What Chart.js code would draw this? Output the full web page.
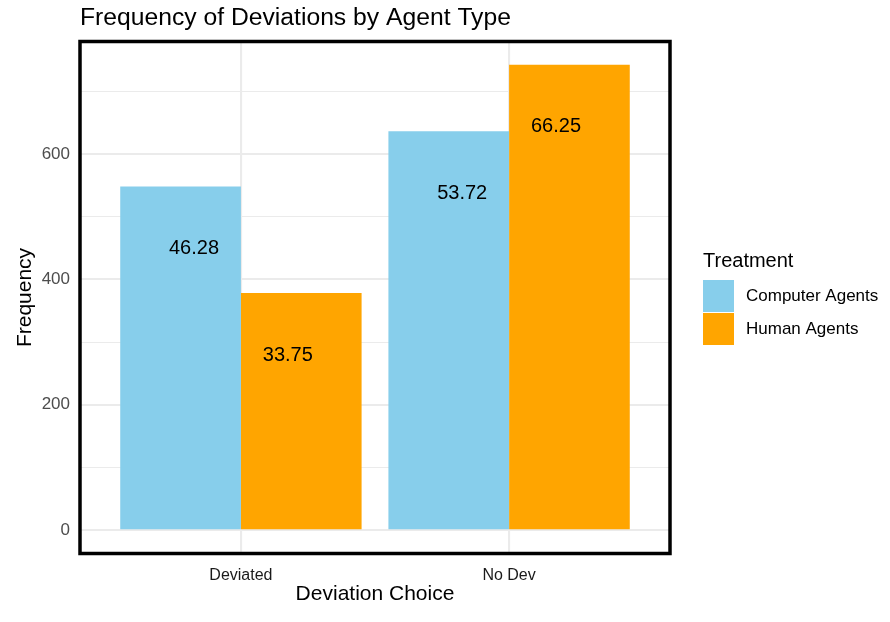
<!DOCTYPE html>
<html>
<head>
<meta charset="utf-8">
<script src="https://cdn.jsdelivr.net/npm/chart.js@4"></script>
<style>
  body { margin: 0; background: #ffffff; }
  canvas { display: block; }
</style>
</head>
<body>
<canvas id="devChart" width="890" height="622"></canvas>
<script>
const categories = ["Deviated", "No Dev"];
const seriesNames = ["Computer Agents", "Human Agents"];
const computerValues = [548, 636];
const humanValues = [378, 742];
const computerPct = ["46.28", "53.72"];
const humanPct = ["33.75", "66.25"];
const yTicks = [0, 100, 200, 300, 400, 500, 600, 700];

const FONT = "'Liberation Sans', Arial, sans-serif";
const colors = ["#87CEEB", "#FFA500"];

// position categories at 1, 2 like a discrete axis
function toPoints(values) {
  return values.map((v, i) => ({ x: i + 1, y: v }));
}

const yMax = Math.max(...computerValues, ...humanValues);

const extras = {
  id: "extras",
  afterDraw(chart) {
    const ctx = chart.ctx;
    const area = chart.chartArea;
    const xs = chart.scales.x;
    const ys = chart.scales.y;

    // bar labels, dodged narrower than the bars
    ctx.save();
    ctx.fillStyle = "#000000";
    ctx.font = "20px " + FONT;
    ctx.textAlign = "center";
    ctx.textBaseline = "middle";
    [[computerValues, computerPct, -0.175], [humanValues, humanPct, 0.175]].forEach(([vals, labels, off]) => {
      vals.forEach((v, i) => {
        ctx.fillText(labels[i], xs.getPixelForValue(i + 1 + off), ys.getPixelForValue(v) + 62);
      });
    });
    ctx.restore();

    // panel border
    ctx.save();
    ctx.strokeStyle = "#000000";
    ctx.lineWidth = 3.5;
    ctx.strokeRect(area.left, area.top, area.right - area.left, area.bottom - area.top);
    ctx.restore();

    // title
    ctx.save();
    ctx.fillStyle = "#000000";
    ctx.font = "24.7px " + FONT;
    ctx.textAlign = "left";
    ctx.textBaseline = "alphabetic";
    ctx.fillText("Frequency of Deviations by Agent Type", area.left, 25);
    ctx.restore();

    // legend
    ctx.save();
    ctx.fillStyle = "#000000";
    ctx.font = "20px " + FONT;
    ctx.textAlign = "left";
    ctx.textBaseline = "alphabetic";
    ctx.fillText("Treatment", 703, 267);
    ctx.font = "17px " + FONT;
    ctx.textBaseline = "middle";
    seriesNames.forEach((name, i) => {
      const top = 280 + i * 33;
      ctx.fillStyle = colors[i];
      ctx.fillRect(703, top, 31, 32);
      ctx.fillStyle = "#000000";
      ctx.fillText(name, 746, top + 16.5);
    });
    ctx.restore();
  },
};

new Chart(document.getElementById("devChart"), {
  type: "bar",
  data: {
    datasets: [
      { label: seriesNames[0], data: toPoints(computerValues), backgroundColor: colors[0], borderWidth: 0 },
      { label: seriesNames[1], data: toPoints(humanValues), backgroundColor: colors[1], borderWidth: 0 },
    ],
  },
  options: {
    responsive: false,
    animation: false,
    devicePixelRatio: 1,
    categoryPercentage: 0.9,
    barPercentage: 1.0,
    layout: { padding: { left: 0, top: 41.5, right: 220, bottom: 0 } },
    plugins: {
      legend: { display: false },
      title: { display: false },
      tooltip: { enabled: false },
    },
    scales: {
      x: {
        type: "linear",
        min: 0.4,
        max: 2.6,
        offset: false,
        afterBuildTicks(scale) {
          scale.ticks = categories.map((c, i) => ({ value: i + 1 }));
        },
        afterFit(scale) {
          scale.height = 68.5;
        },
        grid: { offset: false, color: "#EBEBEB", lineWidth: 2.1, drawTicks: false },
        border: { display: false },
        ticks: {
          padding: 12,
          color: "#1A1A1A",
          font: { family: FONT, size: 16 },
          maxRotation: 0,
          callback: (v) => categories[Math.round(v) - 1],
        },
        title: {
          display: true,
          text: "Deviation Choice",
          color: "#000000",
          font: { family: FONT, size: 21 },
          padding: { top: 0, bottom: 14.7 },
        },
      },
      y: {
        min: -0.05 * yMax,
        max: 1.05 * yMax,
        afterBuildTicks(scale) {
          scale.ticks = yTicks.map((v) => ({ value: v }));
        },
        afterFit(scale) {
          scale.width = 80;
        },
        grid: {
          color: "#EBEBEB",
          lineWidth: (c) => (c.tick && c.tick.value % 200 === 0 ? 2.1 : 1.05),
          drawTicks: false,
        },
        border: { display: false },
        ticks: {
          padding: 10,
          color: "#4D4D4D",
          font: { family: FONT, size: 17 },
          callback: (v) => (v % 200 === 0 ? v : ""),
        },
        title: {
          display: true,
          text: "Frequency",
          color: "#000000",
          font: { family: FONT, size: 21 },
          padding: { top: 12.4, bottom: 0 },
        },
      },
    },
  },
  plugins: [extras],
});
</script>
</body>
</html>
